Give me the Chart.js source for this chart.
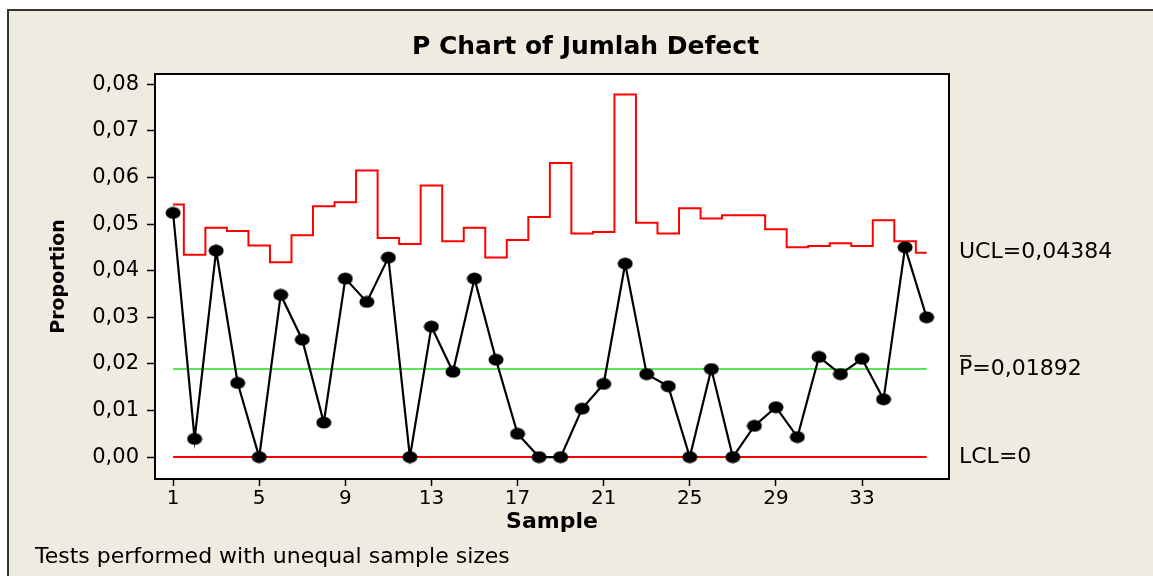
<!DOCTYPE html>
<html>
<head>
<meta charset="utf-8">
<script src="https://cdn.jsdelivr.net/npm/chart.js@4.4.1/dist/chart.umd.min.js"></script>
<style>
  html, body { margin: 0; padding: 0; background: #fff; overflow: hidden; }
  #wrap { width: 1153px; height: 576px; }
</style>
</head>
<body>
<div id="wrap"><canvas id="pChart" width="1153" height="576"></canvas></div>
<script>
// sample numbers 1..36
var samples = [1,2,3,4,5,6,7,8,9,10,11,12,13,14,15,16,17,18,19,20,21,22,23,24,25,26,27,28,29,30,31,32,33,34,35,36];

// proportion defective per sample
var proportion = [
  0.0524, 0.0039, 0.0443, 0.0159, 0.0000, 0.0348, 0.0252, 0.0074, 0.0383, 0.0333,
  0.0428, 0.0000, 0.0280, 0.0183, 0.0383, 0.0209, 0.0050, 0.0000, 0.0000, 0.0104,
  0.0157, 0.0415, 0.0178, 0.0152, 0.0000, 0.0189, 0.0000, 0.0067, 0.0107, 0.0043,
  0.0215, 0.0178, 0.0211, 0.0124, 0.0450, 0.0300
];

// upper control limit per sample (unequal sample sizes)
var ucl = [
  0.0542, 0.0434, 0.0492, 0.0485, 0.0454, 0.0418, 0.0476, 0.0538, 0.0547, 0.0615,
  0.0470, 0.0457, 0.0583, 0.0463, 0.0492, 0.0428, 0.0466, 0.0515, 0.0631, 0.0480,
  0.0483, 0.0778, 0.0503, 0.0480, 0.0534, 0.0512, 0.0519, 0.0519, 0.0489, 0.0450,
  0.0453, 0.0459, 0.0453, 0.0508, 0.0463, 0.04384
];

var pBar = 0.01892;
var lcl = 0;

var xTicks = [1, 5, 9, 13, 17, 21, 25, 29, 33];
var yTicks = [0, 0.01, 0.02, 0.03, 0.04, 0.05, 0.06, 0.07, 0.08];

function comma(v, d) { return v.toFixed(d).replace(".", ","); }

// ellipse marker like Minitab's
var dot = document.createElement("canvas");
dot.width = 16; dot.height = 13;
var dc = dot.getContext("2d");
dc.fillStyle = "#000";
dc.beginPath();
dc.ellipse(8, 6.5, 7.5, 6, 0, 0, Math.PI * 2);
dc.fill();

var first = samples[0], last = samples[samples.length - 1];

var frame = {
  id: "frame",
  beforeDraw: function (chart) {
    var c = chart.ctx, a = chart.chartArea;
    c.save();
    c.fillStyle = "#ffffff";
    c.fillRect(0, 0, chart.width, chart.height);
    c.fillStyle = "#efebe0";
    c.fillRect(8, 9, chart.width - 8, chart.height - 9);
    c.strokeStyle = "#333";
    c.lineWidth = 2;
    c.beginPath();
    c.moveTo(8, chart.height);
    c.lineTo(8, 10);
    c.lineTo(chart.width + 2, 10);
    c.stroke();
    c.fillStyle = "#ffffff";
    c.fillRect(a.left, a.top, a.right - a.left, a.bottom - a.top);
    c.restore();
  },
  afterDraw: function (chart) {
    var c = chart.ctx, a = chart.chartArea, y = chart.scales.y;
    c.save();
    c.strokeStyle = "#000";
    c.lineWidth = 2;
    c.strokeRect(a.left, a.top, a.right - a.left, a.bottom - a.top);

    c.fillStyle = "#000";
    c.font = "22px 'DejaVu Sans'";
    c.textBaseline = "middle";
    c.textAlign = "left";
    var lx = a.right + 10;
    c.fillText("UCL=" + comma(ucl[ucl.length - 1], 5), lx, y.getPixelForValue(ucl[ucl.length - 1]));
    var py = y.getPixelForValue(pBar);
    c.fillText("P=" + comma(pBar, 5), lx, py);
    var pw = c.measureText("P").width;
    c.lineWidth = 1.5;
    c.beginPath();
    c.moveTo(lx + 1, py - 13);
    c.lineTo(lx + pw - 1, py - 13);
    c.stroke();
    c.fillText("LCL=" + lcl, lx, y.getPixelForValue(lcl));

    c.font = "22px 'DejaVu Sans'";
    c.fillText("Tests performed with unequal sample sizes", 35, 557);
    c.restore();
  }
};

new Chart(document.getElementById("pChart"), {
  type: "line",
  data: {
    datasets: [
      {
        label: "Proportion",
        data: samples.map(function (s, i) { return { x: s, y: proportion[i] }; }),
        borderColor: "#000",
        borderWidth: 2.2,
        pointStyle: dot,
        pointRadius: 6,
        tension: 0
      },
      {
        label: "UCL",
        data: samples.map(function (s, i) { return { x: s, y: ucl[i] }; }),
        borderColor: "#ff0000",
        borderWidth: 2,
        stepped: "middle",
        pointRadius: 0
      },
      {
        label: "P-bar",
        data: [{ x: first, y: pBar }, { x: last, y: pBar }],
        borderColor: "#22dd22",
        borderWidth: 1.5,
        pointRadius: 0
      },
      {
        label: "LCL",
        data: [{ x: first, y: lcl }, { x: last, y: lcl }],
        borderColor: "#ff0000",
        borderWidth: 2,
        pointRadius: 0
      }
    ]
  },
  options: {
    responsive: false,
    animation: false,
    layout: { padding: { left: 22, right: 4, top: 0, bottom: 41 } },
    plugins: {
      legend: { display: false },
      tooltip: { enabled: false },
      title: {
        display: true,
        text: "P Chart of Jumlah Defect",
        color: "#000",
        font: { family: "'DejaVu Sans'", size: 25, weight: "bold" },
        padding: { top: 32, bottom: 12 }
      }
    },
    scales: {
      x: {
        type: "linear",
        min: 0.16,
        max: 37.04,
        afterBuildTicks: function (s) { s.ticks = xTicks.map(function (v) { return { value: v }; }); },
        afterFit: function (s) { s.height = 56; },
        grid: { drawOnChartArea: false, drawTicks: true, tickLength: 7, color: "#000", tickWidth: 1.5 },
        border: { display: true, color: "#000", width: 2 },
        ticks: {
          color: "#000",
          padding: 1,
          maxRotation: 0,
          font: { family: "'DejaVu Sans'", size: 20 },
          callback: function (v) { return v; }
        },
        title: {
          display: true,
          text: "Sample",
          color: "#000",
          font: { family: "'DejaVu Sans'", size: 22, weight: "bold" },
          padding: { top: 0, bottom: 0 }
        }
      },
      y: {
        min: -0.0047,
        max: 0.0822,
        afterBuildTicks: function (s) { s.ticks = yTicks.map(function (v) { return { value: v }; }); },
        afterFit: function (s) { s.width = 133; },
        grid: { drawOnChartArea: false, drawTicks: true, tickLength: 8, color: "#000", tickWidth: 1.5 },
        border: { display: true, color: "#000", width: 2 },
        ticks: {
          color: "#000",
          padding: 8,
          font: { family: "'DejaVu Sans'", size: 21 },
          callback: function (v) { return comma(v, 2); }
        },
        title: {
          display: true,
          text: "Proportion",
          color: "#000",
          font: { family: "'DejaVu Sans'", size: 19, weight: "bold" },
          padding: { top: 26, bottom: 0 }
        }
      },
      y2: {
        position: "right",
        min: 0, max: 1,
        afterFit: function (s) { s.width = 200; },
        grid: { display: false },
        border: { display: false },
        ticks: { display: false }
      }
    }
  },
  plugins: [frame]
});
</script>
</body>
</html>
